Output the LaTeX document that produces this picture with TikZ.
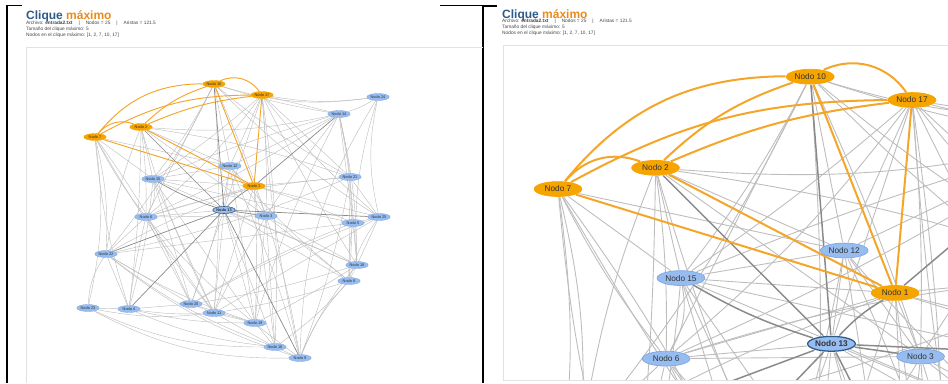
\documentclass[tikz,border=0pt]{standalone}
\usepackage{fontspec}
\setmainfont{Liberation Sans}
\usetikzlibrary{shapes.geometric}
\pgfdeclarelayer{edges}
\pgfsetlayers{edges,main}

\definecolor{nodeblue}{HTML}{97BDF0}
\definecolor{nodeblueline}{HTML}{7FA7E2}
\definecolor{nodeorange}{HTML}{F6A400}
\definecolor{edgeorange}{HTML}{F4A62A}
\definecolor{edgegray}{HTML}{BDBDBD}
\definecolor{edgedark}{HTML}{8A8A8A}
\definecolor{titleblue}{HTML}{2E5C8A}
\definecolor{titleorange}{HTML}{E98B1C}
\definecolor{paneline}{HTML}{E2E2E2}
\definecolor{infotext}{HTML}{444444}

% line-width factor, raised inside the enlarged view
\newcommand\gk{1}
% separator used in the summary line
\newcommand\sepbar{\hspace{6pt}|\hspace{6pt}}

\tikzset{
  gnode/.style={ellipse, inner sep=0pt, minimum width=22.5pt, minimum height=7pt,
    line width=0.35pt*\gk, font=\fontsize{3.9}{4}\selectfont, text=black!80},
  bnode/.style={gnode, fill=nodeblue, draw=nodeblueline},
  onode/.style={gnode, fill=nodeorange, draw=nodeorange},
  hubnode/.style={bnode, draw=titleblue, line width=0.6pt*\gk,
    font=\fontsize{3.9}{4}\selectfont\bfseries},
  eg/.style={draw=edgegray, line width=0.42pt*\gk},
  ed/.style={draw=edgedark, line width=0.7pt*\gk},
  eo/.style={draw=edgeorange, line width=0.95pt*\gk},
  info/.style={anchor=base west, inner sep=0pt, font=\fontsize{4.8}{5.5}\selectfont, text=infotext},
  titletext/.style={anchor=base west, inner sep=0pt, font=\fontsize{12}{14}\selectfont\bfseries},
  panel/.style={draw=paneline, line width=0.8pt},
  frame/.style={draw=black, line width=1.3pt},
}

% the 25 nodes of the graph, names prefixed by #1
\newcommand\cliquenodes[1]{%
  \node[onode] (#1n1) at (254,186) {Nodo 1};
  \node[onode] (#1n2) at (141,127) {Nodo 2};
  \node[bnode] (#1n3) at (266,216) {Nodo 3};
  \node[bnode] (#1n4) at (129,309) {Nodo 4};
  \node[bnode] (#1n5) at (353,223) {Nodo 5};
  \node[bnode] (#1n6) at (146,217) {Nodo 6};
  \node[onode] (#1n7) at (95,137) {Nodo 7};
  \node[bnode] (#1n8) at (349,281) {Nodo 8};
  \node[bnode] (#1n9) at (300,358) {Nodo 9};
  \node[onode] (#1n10) at (214,84) {Nodo 10};
  \node[bnode] (#1n11) at (214,313) {Nodo 11};
  \node[bnode] (#1n12) at (230,166) {Nodo 12};
  \node[hubnode] (#1n13) at (224,210) {Nodo 13};
  \node[bnode] (#1n14) at (339,114) {Nodo 14};
  \node[bnode] (#1n15) at (153,179) {Nodo 15};
  \node[bnode] (#1n16) at (275,347) {Nodo 16};
  \node[onode] (#1n17) at (262,95) {Nodo 17};
  \node[bnode] (#1n18) at (357,265) {Nodo 18};
  \node[bnode] (#1n19) at (255,323) {Nodo 19};
  \node[bnode] (#1n20) at (191,304) {Nodo 20};
  \node[bnode] (#1n21) at (350,177) {Nodo 21};
  \node[bnode] (#1n22) at (106,254) {Nodo 22};
  \node[bnode] (#1n23) at (88,308) {Nodo 23};
  \node[bnode] (#1n24) at (378,97) {Nodo 24};
  \node[bnode] (#1n25) at (379,217) {Nodo 25};
}

% the edges: light, heavy, and the clique {1,2,7,10,17}
\newcommand\cliqueedges[1]{%
  \foreach \a/\b/\c in {
    7/22/8, 7/23/10, 7/4/-6, 7/15/0, 7/6/-5, 7/12/0, 7/20/6, 7/11/-4,
    2/6/4, 2/22/-6, 2/4/3, 2/15/0, 2/12/0, 2/11/-5, 2/3/0, 2/14/-8, 2/21/5,
    10/12/0, 10/15/5, 10/6/0, 10/3/3, 10/21/-5, 10/24/-12, 10/25/-6, 10/11/4, 10/22/6, 10/14/-4,
    17/14/0, 17/21/0, 17/3/3, 17/13/0, 17/12/0, 17/25/-5, 17/16/5, 17/9/-4, 17/6/6, 17/24/-8, 17/15/3, 17/18/-3,
    1/3/0, 1/21/0, 1/15/0, 1/25/0, 1/19/3, 1/16/0, 1/5/4, 1/11/0, 1/6/0, 1/22/-4,
    12/15/0, 12/3/0, 12/14/0, 12/8/-5, 12/20/5, 12/19/0, 12/9/4,
    13/6/0, 13/11/0, 13/20/0, 13/19/0, 13/8/0, 13/18/0, 13/16/0, 13/12/0,
    14/24/-8, 14/21/3, 14/8/8, 14/18/6, 14/19/-5, 14/11/-6, 14/5/0, 14/6/4, 14/15/-3,
    21/25/0, 21/18/0, 21/9/5, 21/6/-6, 21/8/0, 21/22/5,
    24/25/-12, 24/9/-15, 24/18/-10,
    5/25/0, 5/18/0, 5/8/-5, 5/22/0, 5/15/0, 5/20/-5,
    3/16/0, 3/19/0, 3/9/4, 3/6/0, 3/18/0, 3/8/0,
    6/22/0, 6/4/-3, 6/20/0, 6/11/0, 6/9/-6, 6/15/-20,
    15/20/0, 15/11/0, 15/4/5, 15/18/0, 15/19/0,
    22/23/-15, 22/4/0, 22/16/-8, 22/9/-10, 22/20/0, 22/19/-6,
    23/4/0, 23/16/-12, 23/9/-14, 23/11/-8,
    4/19/-6, 4/16/-8, 4/11/-5, 4/20/0,
    20/11/0, 20/19/0, 20/25/5, 20/18/-4,
    11/19/0, 11/8/-4, 11/16/0, 11/25/0,
    19/16/0, 19/18/-3, 16/9/0, 9/8/10, 9/18/8, 8/18/0, 25/8/-10, 25/18/0, 16/8/-6}
    \draw[eg] (#1n\a) to[bend left=\c] (#1n\b);
  \foreach \a/\b/\c in {13/1/8, 13/2/0, 13/10/0, 13/22/0, 13/4/0, 13/15/6,
    13/9/0, 13/25/0, 13/3/0, 1/14/0}
    \draw[ed] (#1n\a) to[bend left=\c] (#1n\b);
  \foreach \a/\b/\c in {7/10/25, 7/17/14, 2/10/12, 2/17/8, 7/2/35, 10/17/40,
    7/1/0, 2/1/0, 10/1/0, 17/1/0}
    \draw[eo] (#1n\a) to[bend left=\c] (#1n\b);
}

\begin{document}
\begin{tikzpicture}[x=1pt,y=-1pt]
\useasboundingbox (0,0) rectangle (948,383);

% outer frame strokes
\draw[frame] (7,5) -- (7,383);
\draw[frame] (6.4,5.5) -- (22,5.5);
\draw[frame] (440,5.5) -- (483,5.5);
\draw[frame] (483,5) -- (483,383);
\draw[frame] (483,6) -- (497,6);

% ---------- overview ----------
\node[titletext] (ltitle) at (26,19) {\textcolor{titleblue}{Clique} \textcolor{titleorange}{máximo}};
\node[info] (linfo1) at (26,24.5) {Archivo: \textbf{entrada2.txt}\sepbar Nodos = 25\sepbar Aristas = 121.5};
\node[info] (linfo2) at (26,30.5) {Tamaño del clique máximo: 5};
\node[info] (linfo3) at (26,36.5) {Nodos en el clique máximo: [1, 2, 7, 10, 17]};
\draw[panel] (26,383) -- (26,47.5) -- (483,47.5);

\begin{scope}
  \clip (26,47) rectangle (483,383);
  \cliquenodes{L}
\end{scope}
\begin{pgfonlayer}{edges}
  \begin{scope}
    \clip (26,47) rectangle (483,383);
    \cliqueedges{L}
  \end{scope}
\end{pgfonlayer}

% ---------- enlarged view ----------
\node[titletext] (rtitle) at (502,18) {\textcolor{titleblue}{Clique} \textcolor{titleorange}{máximo}};
\node[info] (rinfo1) at (502,22.5) {Archivo: \textbf{entrada2.txt}\sepbar Nodos = 25\sepbar Aristas = 121.5};
\node[info] (rinfo2) at (502,28.5) {Tamaño del clique máximo: 5};
\node[info] (rinfo3) at (502,34.5) {Nodos en el clique máximo: [1, 2, 7, 10, 17]};
\draw[panel] (948,380) -- (503,380) -- (503,45) -- (948,45);

\begin{scope}[shift={(356.6,-101.4)}, scale=2.12, transform shape]
  \renewcommand\gk{2.12}
  \begin{scope}
    \clip (69.2,70.6) rectangle (279,226.9);
    \cliquenodes{R}
  \end{scope}
  \begin{pgfonlayer}{edges}
    \begin{scope}
      \clip (69.2,70.6) rectangle (279,226.9);
      \cliqueedges{R}
    \end{scope}
  \end{pgfonlayer}
\end{scope}
\end{tikzpicture}
\end{document}
